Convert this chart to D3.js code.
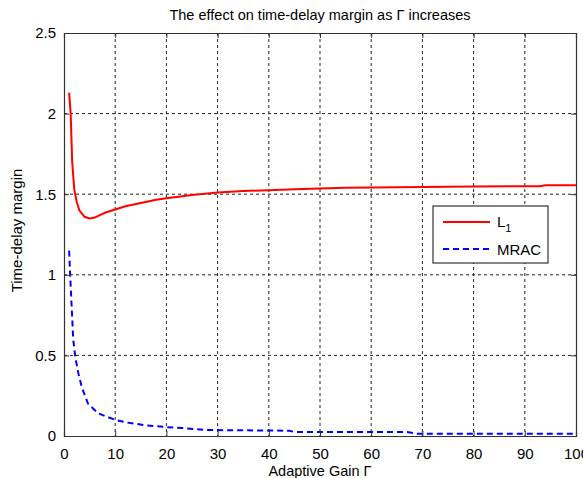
<!DOCTYPE html>
<html>
<head>
<meta charset="utf-8">
<script src="https://cdn.jsdelivr.net/npm/d3@7"></script>
<style>
  html, body { margin: 0; padding: 0; background: #fff; }
  svg text { font-family: "Liberation Sans", Arial, sans-serif; fill: #000; }
</style>
</head>
<body>
<svg id="chart" width="583" height="478"></svg>
<script>
// Adaptive gain values and the resulting time-delay margins
const l1Gain    = [1, 1.3, 1.6, 2, 2.5, 3, 4, 5, 6, 7, 8, 10, 12, 15, 18, 20, 25, 30, 35, 40, 45, 50, 55, 60, 70, 80, 90, 93, 94, 100];
const l1Margin  = [2.13, 2.0, 1.7, 1.53, 1.45, 1.40, 1.36, 1.35, 1.355, 1.37, 1.385, 1.405, 1.425, 1.445, 1.465, 1.475, 1.495, 1.51, 1.52, 1.525, 1.53, 1.535, 1.54, 1.542, 1.545, 1.548, 1.55, 1.55, 1.555, 1.555];

const mracGain   = [1, 1.2, 1.5, 1.8, 2.2, 2.8, 3.5, 4.7, 6.7, 10, 13, 16, 20, 23, 26, 28, 44, 45, 67, 69, 100];
const mracMargin = [1.15, 1.0, 0.8, 0.6, 0.49, 0.39, 0.3, 0.2, 0.14, 0.1, 0.08, 0.066, 0.055, 0.05, 0.042, 0.037, 0.033, 0.025, 0.025, 0.014, 0.014];

const xTicks = [0, 10, 20, 30, 40, 50, 60, 70, 80, 90, 100];
const yTicks = [0, 0.5, 1, 1.5, 2, 2.5];

const titleText = "The effect on time-delay margin as \u0393 increases";
const xLabel = "Adaptive Gain \u0393";
const yLabel = "Time-delay margin";

const svg = d3.select("#chart");
const plot = { left: 64, right: 576, top: 33, bottom: 436 };

const x = d3.scaleLinear().domain([0, 100]).range([plot.left, plot.right]);
const y = d3.scaleLinear().domain([0, 2.5]).range([plot.bottom, plot.top]);

// dashed grid
const grid = svg.append("g");
grid.selectAll("line.gx").data(xTicks.slice(1, -1)).join("line")
  .attr("x1", d => x(d)).attr("x2", d => x(d))
  .attr("y1", plot.top).attr("y2", plot.bottom)
  .attr("stroke", "#222").attr("stroke-width", 1).attr("stroke-dasharray", "3,3");
grid.selectAll("line.gy").data(yTicks.slice(1, -1)).join("line")
  .attr("y1", d => y(d)).attr("y2", d => y(d))
  .attr("x1", plot.left).attr("x2", plot.right)
  .attr("stroke", "#222").attr("stroke-width", 1).attr("stroke-dasharray", "3,3");

// axes with inward ticks
const xAxis = svg.append("g").attr("transform", `translate(0,${plot.bottom})`)
  .call(d3.axisBottom(x).tickValues(xTicks).tickSize(-5).tickPadding(12).tickFormat(d3.format("d")));
const xAxisTop = svg.append("g").attr("transform", `translate(0,${plot.top})`)
  .call(d3.axisTop(x).tickValues(xTicks).tickSize(-5).tickFormat(""));
const yAxis = svg.append("g").attr("transform", `translate(${plot.left},0)`)
  .call(d3.axisLeft(y).tickValues(yTicks).tickSize(-5).tickPadding(8).tickFormat(d => d3.format("")(d)));
const yAxisRight = svg.append("g").attr("transform", `translate(${plot.right},0)`)
  .call(d3.axisRight(y).tickValues(yTicks).tickSize(-5).tickFormat(""));

[xAxis, xAxisTop, yAxis, yAxisRight].forEach(g => {
  g.select(".domain").attr("stroke", "#333").attr("stroke-width", 1.2);
  g.selectAll(".tick line").attr("stroke", "#333");
  g.selectAll(".tick text").attr("font-size", 15).attr("font-family", "Liberation Sans, Arial, sans-serif").attr("fill", "#000");
});

// data lines
const line = d3.line().x(d => x(d[0])).y(d => y(d[1]));
const l1Data = d3.zip(l1Gain, l1Margin);
const mracData = d3.zip(mracGain, mracMargin);

svg.append("path").datum(l1Data)
  .attr("d", line).attr("fill", "none")
  .attr("stroke", "#ff0000").attr("stroke-width", 2);

svg.append("path").datum(mracData)
  .attr("d", line).attr("fill", "none")
  .attr("stroke", "#0000ff").attr("stroke-width", 2).attr("stroke-dasharray", "6,4");

// title and labels
svg.append("text").attr("x", (plot.left + plot.right) / 2).attr("y", 20)
  .attr("text-anchor", "middle").attr("font-size", 14.5).text(titleText);
svg.append("text").attr("x", (plot.left + plot.right) / 2).attr("y", 476)
  .attr("text-anchor", "middle").attr("font-size", 14.5).text(xLabel);
svg.append("text").attr("transform", `translate(22,${(plot.top + plot.bottom) / 2 - 4}) rotate(-90)`)
  .attr("text-anchor", "middle").attr("font-size", 15).text(yLabel);

// legend
const legend = svg.append("g");
legend.append("rect").attr("x", 433).attr("y", 206).attr("width", 115).attr("height", 57)
  .attr("fill", "#fff").attr("stroke", "#333").attr("stroke-width", 1.2);
legend.append("line").attr("x1", 443).attr("x2", 490).attr("y1", 222).attr("y2", 222)
  .attr("stroke", "#ff0000").attr("stroke-width", 2);
legend.append("line").attr("x1", 443).attr("x2", 490).attr("y1", 249).attr("y2", 249)
  .attr("stroke", "#0000ff").attr("stroke-width", 2).attr("stroke-dasharray", "6,4");
const l1Text = legend.append("text").attr("x", 497).attr("y", 227).attr("font-size", 15);
l1Text.append("tspan").text("L");
l1Text.append("tspan").attr("dy", 5).attr("font-size", 11).text("1");
legend.append("text").attr("x", 497).attr("y", 255).attr("font-size", 15).text("MRAC");
</script>
</body>
</html>
